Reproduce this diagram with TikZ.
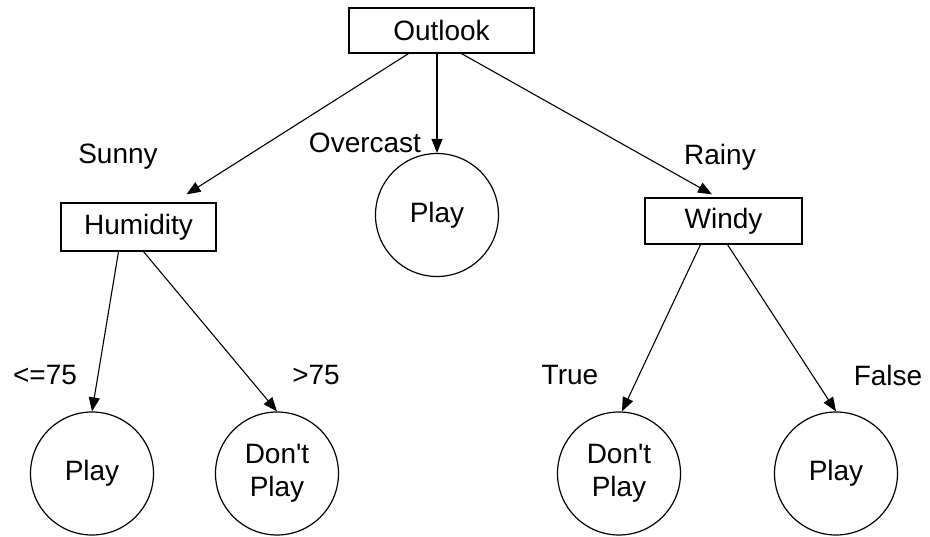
\documentclass[tikz,border=0pt]{standalone}
\usepackage{fontspec}
\setmainfont{Liberation Sans}
\usetikzlibrary{arrows.meta}
\begin{document}
\begin{tikzpicture}[x=1pt,y=-1pt,
  every node/.style={font=\fontsize{28}{33}\selectfont},
  boxnode/.style={draw,line width=1.2pt,rectangle,inner sep=0pt},
  leaf/.style={draw,line width=1.2pt,circle,minimum size=123pt,inner sep=0pt,align=center},
  lbl/.style={inner sep=0pt},
  arr/.style={line width=1.1pt,-{Triangle[length=14pt,width=11pt]}}]
\useasboundingbox (0,0) rectangle (930,537);
% internal nodes
\node[boxnode,minimum width=185pt,minimum height=45pt] (outlook) at (441.5,30.5) {Outlook};
\node[boxnode,minimum width=155pt,minimum height=48pt] (humidity) at (138.5,227) {Humidity};
\node[boxnode,minimum width=157pt,minimum height=46pt] (windy) at (723.5,221) {Windy};
% leaves
\node[leaf] (play0) at (437,215) {Play};
\node[leaf] (play1) at (92,473.5) {Play};
\node[leaf] (dp1) at (277,473.5) {Don\textquotesingle t\\Play};
\node[leaf] (dp2) at (619,473.5) {Don\textquotesingle t\\Play};
\node[leaf] (play2) at (836,473.5) {Play};
% edges
\draw[arr] ([xshift=-33pt]outlook.south) -- ([xshift=48pt,yshift=8pt]humidity.north);
\draw[arr] (outlook.south -| play0.north) -- (play0.north);
\draw[arr] ([xshift=20pt]outlook.south) -- ([xshift=-11.5pt,yshift=3pt]windy.north);
\draw[arr] ([xshift=-20pt]humidity.south) -- (play1.north);
\draw[arr] ([xshift=5pt]humidity.south) -- (dp1.north);
\draw[arr] ([xshift=-23pt]windy.south) -- ([xshift=3pt]dp2.north);
\draw[arr] ([xshift=4pt]windy.south) -- (play2.north);
% edge labels
\node[lbl] (lsunny) at (118,157) {Sunny};
\node[lbl] (lover) at (365,143) {Overcast};
\node[lbl] (lrainy) at (720,157) {Rainy};
\node[lbl] (lle) at (45,375) {<=75};
\node[lbl] (lgt) at (316,375) {>75};
\node[lbl] (ltrue) at (570,375) {True};
\node[lbl] (lfalse) at (888,375) {False};
\end{tikzpicture}
\end{document}
